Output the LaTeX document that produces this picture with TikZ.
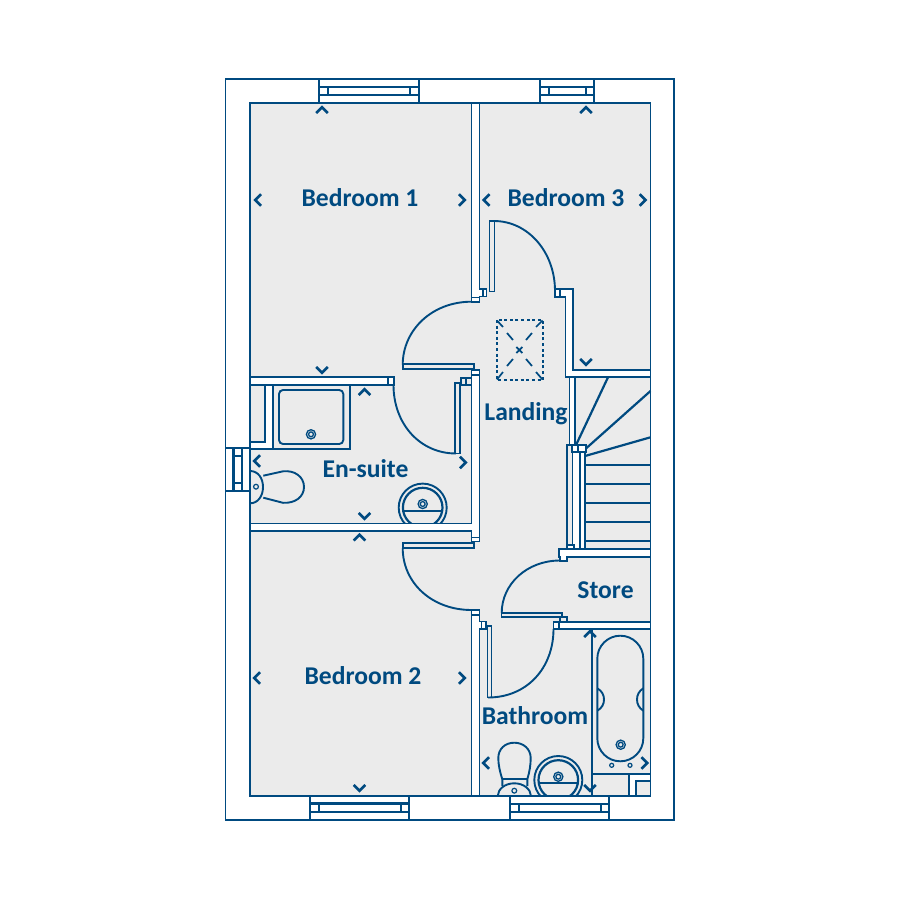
\documentclass[tikz,border=0pt]{standalone}
\usepackage{fontspec}
\setmainfont{Carlito}
\definecolor{planblue}{HTML}{004A80}
\definecolor{roomgrey}{HTML}{EBEBEB}
\tikzset{
  ln/.style={draw=planblue,line width=1.8pt,line join=miter},
  wall/.style={ln,fill=white},
  jamb/.style={ln,fill=roomgrey},
  thick line/.style={draw=planblue,line width=2.2pt},
  fix/.style={draw=planblue,line width=1.9pt},
  label/.style={text=planblue,font=\fontsize{25.6}{26}\selectfont\bfseries,inner sep=0pt},
  chevu/.pic={\draw[planblue,line width=2.6pt] (-5.8,3)--(0,-2.8)--(5.8,3);},
  chevd/.pic={\draw[planblue,line width=2.6pt] (-5.8,-3)--(0,2.8)--(5.8,-3);},
  chevl/.pic={\draw[planblue,line width=2.6pt] (3,-5.8)--(-2.8,0)--(3,5.8);},
  chevr/.pic={\draw[planblue,line width=2.6pt] (-3,-5.8)--(2.8,0)--(-3,5.8);},
  waste/.pic={\draw[planblue,line width=1.3pt] (0,0) circle[radius=4.6] (0,0) circle[radius=2.4];}
}
\begin{document}
\begin{tikzpicture}[x=1pt,y=-1pt]
\useasboundingbox (0,0) rectangle (900,900);
\fill[white] (0,0) rectangle (900,900);
% outer walls and floor
\draw[ln,fill=white] (225.5,79) rectangle (674,820);
\draw[ln,fill=roomgrey] (250,103) rectangle (650.5,796);

% windows
\foreach \xa/\xb/\xc/\xd/\ya/\yb/\yc/\yd in {319/327.7/410/418.7/79/87.3/95.3/103,540/549/585.7/594/79/87.3/95/103,310.3/319/400.7/409/796/803.5/811.7/820,510/519/600.7/609.3/796/804/812.3/820}{
  \draw[wall] (\xa,\ya) rectangle (\xd,\yd);
  \draw[thick line] (\xa,\yb) -- (\xd,\yb) (\xa,\yc) -- (\xd,\yc) (\xb,\yb) -- (\xb,\yc) (\xc,\yb) -- (\xc,\yc);
}
% side window
\draw[wall] (225.5,448.3) rectangle (250,490.7);
\draw[thick line] (233.5,448.3) -- (233.5,490.7) (241.7,448.3) -- (241.7,490.7) (233.5,456) -- (241.7,456) (233.5,482.7) -- (241.7,482.7) (225.5,490.7) -- (250,490.7);

% wall between bedroom 1 and bedroom 3
\draw[wall] (471.5,103) -- (479.5,103) -- (479.5,289) -- (486.5,289) -- (486.5,296.5) -- (479.5,296.5) -- (479.5,302) -- (471.5,302) -- cycle;
\draw[ln] (471.5,297.5) -- (479.5,297.5) (483,289) -- (483,296.5);
\draw[jamb] (489.5,221) rectangle (494.5,291.5);
% wall between bedroom 3 and landing
\draw[wall] (555,289) -- (573,289) -- (573,370) -- (650.5,370) -- (650.5,377.3) -- (565.5,377.3) -- (565.5,296.7) -- (555,296.7) -- cycle;
\draw[ln] (560,289) -- (560,296.7);
\draw[thick line] (573,370) -- (650,370);
% bedroom 3 door swing
\draw[fix] (494,221) .. controls (528,221) and (555,252) .. (555,291);

% stairs
\draw[wall] (569.5,377.3) rectangle (575,445);
\foreach \y in {465,484,503.3,522,540.7}{\draw[thick line] (585,\y) -- (650.5,\y);}
\draw[thick line] (576.5,444) -- (608,377.3);
\draw[thick line] (586.5,448) -- (650.5,391);
\draw[thick line] (585,456) -- (650.5,437.3);
\draw[ln,fill=roomgrey] (567.3,445) rectangle (572.5,549);
\draw[wall] (572.5,452) rectangle (580,549);
\draw[wall] (580,452) rectangle (585,549);
\draw[wall] (571.7,445) rectangle (578,452);
\draw[wall] (578,445) rectangle (585.7,452);
\draw[wall] (567.3,545) rectangle (574,549);

% store walls
\draw[wall] (559,549.3) -- (650.5,549.3) -- (650.5,557.3) -- (567,557.3) -- (567,561) -- (560,561) -- (560,557.3) -- (559,557.3) -- cycle;
\draw[jamb] (501.5,612.8) rectangle (561.7,616.7);
\draw[jamb] (560,617) rectangle (567,621.7);
\draw[wall] (553.5,621.7) rectangle (650.5,629);
\draw[ln] (559,621.7) -- (559,629);
\draw[fix] (560,560.5) .. controls (527,560.5) and (501.7,584) .. (501.7,613);

% bathroom wall and door
\draw[wall] (471.5,610) -- (479.5,610) -- (479.5,621.5) -- (486,621.5) -- (486,629) -- (479.5,629) -- (479.5,796) -- (471.5,796) -- cycle;
\draw[ln] (471.5,615) -- (479.5,615) (481.5,621.5) -- (481.5,629);
\draw[jamb] (487.5,626) rectangle (491.5,697.5);
\draw[fix] (553.5,629) .. controls (553.5,668) and (527,697.5) .. (488,697.5);

% bedroom 1 door
\draw[fix] (471.5,301.7) .. controls (432,301.7) and (402.7,330) .. (402.7,365);
\draw[jamb] (402.7,364) rectangle (474.3,369);
% bedroom 2 door
\draw[jamb] (402.7,543.3) rectangle (474.3,548.3);
\draw[fix] (402.7,548) .. controls (402.7,583) and (432,610) .. (471.5,610);

% en-suite walls
\draw[wall] (250,377.3) rectangle (394,385);
\draw[ln] (387.7,377.3) -- (387.7,385);
\draw[wall] (471.5,370) -- (479.5,370) -- (479.5,541.5) -- (471.5,541.5) -- (471.5,530.7) -- (250,530.7) -- (250,523.5) -- (471.5,523.5) -- cycle;
\draw[ln] (471.5,375) -- (479.5,375) (471.5,537.5) -- (479.5,537.5);
\draw[jamb] (461,378) -- (471.5,378) -- (471.5,385) -- (461,385) -- cycle;
\draw[ln] (466,378) -- (466,385);
\draw[jamb] (455,382.7) rectangle (460,453.5);
\draw[fix] (393.5,385) .. controls (393.5,424) and (420,453.5) .. (456,453.5);

% shower
\draw[ln] (272.7,385) -- (350,385) -- (350,449.3) -- (272.7,449.3) -- cycle;
\draw[wall] (265,385) -- (272.7,385) -- (272.7,449.3) -- (250,449.3) -- (250,441.7) -- (265,441.7) -- cycle;
\draw[fix,rounded corners=4pt] (279,390) rectangle (343.3,444);
\pic at (311,434.3) {waste};

% en-suite WC
\draw[fix] (250,471) .. controls (258,471) and (263,478) .. (263,487) .. controls (263,496) and (258,503.3) .. (250,503.3);
\draw[fix] (263.3,475.7) -- (283,471.3) .. controls (295,470) and (304,477) .. (304,487) .. controls (304,497) and (295,503.5) .. (283,502.8) -- (263.3,497.7);
\draw[planblue,line width=1.2pt] (256,486.7) circle[radius=2.4];

% en-suite basin
\begin{scope}
\clip (390,470) rectangle (450,523.5);
\draw[fix] (422.7,507.6) circle[radius=24];
\draw[planblue,line width=2.2pt] (422.7,507.6) circle[radius=19.8];
\draw[thick line] (404,510.7) -- (441.4,510.7);
\end{scope}
\pic at (422.7,504) {waste};

% bathroom fittings
\draw[ln] (592,629) -- (592,796);
\draw[ln] (592,774) -- (650.5,774);
\draw[wall] (629.3,796) -- (629.3,774) -- (650.5,774) -- (650.5,781) -- (636,781) -- (636,796) -- cycle;
\draw[fix,rounded corners=23pt] (597.3,635.7) rectangle (643.3,761.3);
\draw[fix] (597.3,688.3) .. controls (602,691) and (604,695) .. (604,699.5) .. controls (604,704) and (602,708) .. (597.3,710.7);
\draw[fix] (643.3,688.3) .. controls (639,691) and (637,695) .. (637,699.5) .. controls (637,704) and (639,708) .. (643.3,710.7);
\pic at (620.7,744.7) {waste};
\draw[planblue,line width=1.2pt] (611.7,765.3) circle[radius=2] (630,765.3) circle[radius=2];

% bathroom WC
\draw[fix] (497.7,796) .. controls (498,789) and (505,783.3) .. (514.3,783.3) .. controls (523.5,783.3) and (530.7,789) .. (531,796);
\draw[fix] (502.3,786) -- (502.3,779.3) .. controls (500,772) and (498.3,765) .. (498.3,758) .. controls (498.3,749) and (505,742.7) .. (514.3,742.7) .. controls (523.5,742.7) and (530.7,749) .. (530.7,758) .. controls (530.7,765) and (529.5,772) .. (527.3,779.3) -- (527.3,786);
\draw[fix] (502.3,779.3) -- (527.3,779.3);
\draw[planblue,line width=1.2pt] (514.3,790.7) circle[radius=2.4];

% bathroom basin
\begin{scope}
\clip (530,750) rectangle (590,796);
\draw[fix] (558.3,780) circle[radius=24];
\draw[planblue,line width=2.2pt] (558.3,780) circle[radius=19.8];
\draw[thick line] (538.7,782.7) -- (577.9,782.7);
\end{scope}
\pic at (558.3,776.7) {waste};
\draw[thick line] (250,796) -- (650.5,796);
\draw[ln] (650.5,103) -- (650.5,796);

% roof light
\draw[planblue,line width=1.7pt,dash pattern=on 3pt off 2.6pt] (496.7,320) rectangle (542.7,380);
\draw[planblue,line width=1.7pt]
  (497,320.5) -- (503,327) (507,333) -- (513,340) (542.5,320.5) -- (536,327) (532,333) -- (526,340)
  (497,379.5) -- (503,372) (507,366) -- (513,359) (542.5,379.5) -- (536,372) (532,366) -- (526,359)
  (516.3,347) -- (522.3,353) (522.3,347) -- (516.3,353);

% wall openings chevrons
\pic at (322,110) {chevu};  \pic at (258,200) {chevl};  \pic at (462,200) {chevr};  \pic at (322,370) {chevd};
\pic at (586,110) {chevu};  \pic at (486.5,200) {chevl}; \pic at (642.7,200) {chevr}; \pic at (586,362) {chevd};
\pic at (364.5,392) {chevu}; \pic at (257,461) {chevl};  \pic at (463,462.5) {chevr}; \pic at (364.5,516) {chevd};
\pic at (359.5,537.5) {chevu}; \pic at (257,678) {chevl}; \pic at (462,678) {chevr}; \pic at (359.5,788) {chevd};
\pic at (486,763) {chevl}; \pic at (644.5,763) {chevr}; \pic at (590,788) {chevd}; \pic at (590,634) {chevu};

% labels
\node[label] (bed1) at (360,198) {Bedroom 1};
\node[label] (bed3) at (566,198) {Bedroom 3};
\node[label] (ens) at (365.5,468.5) {En-suite};
\node[label] (land) at (526,414) {Landing};
\node[label] (bed2) at (363,676) {Bedroom 2};
\node[label] (store) at (605.5,590.5) {Store};
\node[label] (bath) at (535,715.5) {Bathroom};
\end{tikzpicture}
\end{document}
